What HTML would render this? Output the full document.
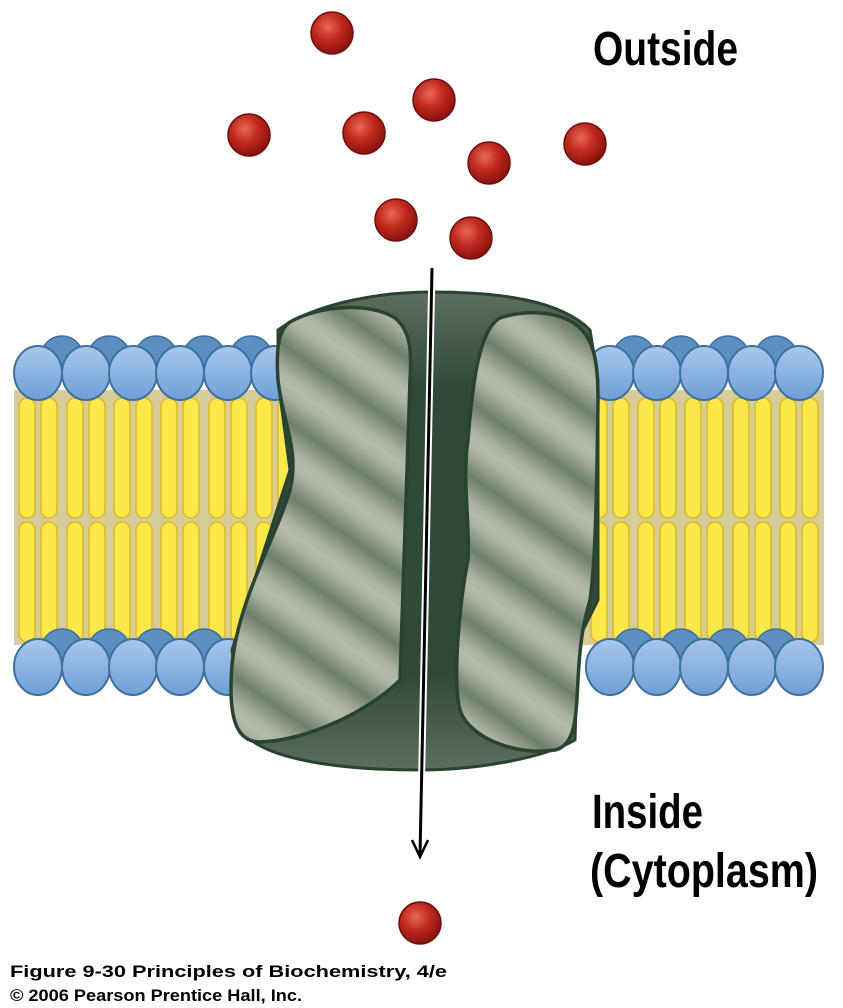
<!DOCTYPE html>
<html><head><meta charset="utf-8"><style>
html,body{margin:0;padding:0;background:#fff;}
svg{display:block;}
</style></head><body>
<svg width="843" height="1008" viewBox="0 0 843 1008" xmlns="http://www.w3.org/2000/svg">
<defs>
<radialGradient id="ball" cx="0.4" cy="0.35" r="0.65">
<stop offset="0" stop-color="#e86a55"/><stop offset="0.5" stop-color="#c02a1e"/><stop offset="1" stop-color="#8a1210"/>
</radialGradient>
<linearGradient id="head" x1="0" y1="0" x2="0" y2="1">
<stop offset="0" stop-color="#a8c8ec"/><stop offset="1" stop-color="#6f9fd6"/>
</linearGradient>
<linearGradient id="stripeG" x1="0" y1="0" x2="0" y2="1">
<stop offset="0" stop-color="#6f7e6e"/><stop offset="0.35" stop-color="#a9b1a3"/><stop offset="0.5" stop-color="#b4bbae"/><stop offset="0.65" stop-color="#a9b1a3"/><stop offset="1" stop-color="#6f7e6e"/>
</linearGradient>
<pattern id="stripe" width="60" height="60" patternUnits="userSpaceOnUse" patternTransform="rotate(35)">
<rect width="60" height="60" fill="url(#stripeG)"/>
</pattern>
<linearGradient id="body" x1="0" y1="0" x2="0" y2="1">
<stop offset="0" stop-color="#5d6e5e"/><stop offset="0.2" stop-color="#2f4a38"/><stop offset="0.8" stop-color="#2f4a38"/><stop offset="1" stop-color="#5d6e5e"/>
</linearGradient>
</defs>

<rect x="14" y="390" width="810" height="255" fill="#d8cc98"/>
<g fill="#fce84a" stroke="#d9bb22" stroke-width="1.5">
<rect x="19" y="398" width="16" height="120" rx="8"/><rect x="41" y="398" width="16" height="120" rx="8"/>
<rect x="19" y="522" width="16" height="120" rx="8"/><rect x="41" y="522" width="16" height="120" rx="8"/>
<rect x="67" y="398" width="16" height="120" rx="8"/><rect x="89" y="398" width="16" height="120" rx="8"/>
<rect x="67" y="522" width="16" height="120" rx="8"/><rect x="89" y="522" width="16" height="120" rx="8"/>
<rect x="114" y="398" width="16" height="120" rx="8"/><rect x="136" y="398" width="16" height="120" rx="8"/>
<rect x="114" y="522" width="16" height="120" rx="8"/><rect x="136" y="522" width="16" height="120" rx="8"/>
<rect x="161" y="398" width="16" height="120" rx="8"/><rect x="183" y="398" width="16" height="120" rx="8"/>
<rect x="161" y="522" width="16" height="120" rx="8"/><rect x="183" y="522" width="16" height="120" rx="8"/>
<rect x="209" y="398" width="16" height="120" rx="8"/><rect x="231" y="398" width="16" height="120" rx="8"/>
<rect x="209" y="522" width="16" height="120" rx="8"/><rect x="231" y="522" width="16" height="120" rx="8"/>
<rect x="256" y="398" width="16" height="120" rx="8"/><rect x="278" y="398" width="16" height="120" rx="8"/>
<rect x="256" y="522" width="16" height="120" rx="8"/><rect x="278" y="522" width="16" height="120" rx="8"/>
<rect x="591" y="398" width="16" height="120" rx="8"/><rect x="613" y="398" width="16" height="120" rx="8"/>
<rect x="591" y="522" width="16" height="120" rx="8"/><rect x="613" y="522" width="16" height="120" rx="8"/>
<rect x="638" y="398" width="16" height="120" rx="8"/><rect x="660" y="398" width="16" height="120" rx="8"/>
<rect x="638" y="522" width="16" height="120" rx="8"/><rect x="660" y="522" width="16" height="120" rx="8"/>
<rect x="685" y="398" width="16" height="120" rx="8"/><rect x="707" y="398" width="16" height="120" rx="8"/>
<rect x="685" y="522" width="16" height="120" rx="8"/><rect x="707" y="522" width="16" height="120" rx="8"/>
<rect x="733" y="398" width="16" height="120" rx="8"/><rect x="755" y="398" width="16" height="120" rx="8"/>
<rect x="733" y="522" width="16" height="120" rx="8"/><rect x="755" y="522" width="16" height="120" rx="8"/>
<rect x="780" y="398" width="16" height="120" rx="8"/><rect x="802" y="398" width="16" height="120" rx="8"/>
<rect x="780" y="522" width="16" height="120" rx="8"/><rect x="802" y="522" width="16" height="120" rx="8"/>
</g>
<g fill="#5b8fc0" stroke="#3f6f9e" stroke-width="1.5">
<circle cx="62" cy="357" r="21"/><circle cx="109" cy="357" r="21"/><circle cx="156" cy="357" r="21"/><circle cx="204" cy="357" r="21"/><circle cx="251" cy="357" r="21"/>
<circle cx="634" cy="357" r="21"/><circle cx="681" cy="357" r="21"/><circle cx="728" cy="357" r="21"/><circle cx="776" cy="357" r="21"/>
<circle cx="62" cy="650" r="21"/><circle cx="109" cy="650" r="21"/><circle cx="156" cy="650" r="21"/><circle cx="204" cy="650" r="21"/>
<circle cx="634" cy="650" r="21"/><circle cx="681" cy="650" r="21"/><circle cx="728" cy="650" r="21"/><circle cx="776" cy="650" r="21"/>
</g>
<g fill="url(#head)" stroke="#3f6f9e" stroke-width="2">
<ellipse cx="38" cy="373" rx="24" ry="27"/><ellipse cx="86" cy="373" rx="24" ry="27"/><ellipse cx="133" cy="373" rx="24" ry="27"/><ellipse cx="180" cy="373" rx="24" ry="27"/><ellipse cx="228" cy="373" rx="24" ry="27"/><ellipse cx="275" cy="373" rx="24" ry="27"/>
<ellipse cx="610" cy="373" rx="24" ry="27"/><ellipse cx="657" cy="373" rx="24" ry="27"/><ellipse cx="704" cy="373" rx="24" ry="27"/><ellipse cx="752" cy="373" rx="24" ry="27"/><ellipse cx="799" cy="373" rx="24" ry="27"/>
<ellipse cx="38" cy="667" rx="24" ry="28"/><ellipse cx="86" cy="667" rx="24" ry="28"/><ellipse cx="133" cy="667" rx="24" ry="28"/><ellipse cx="180" cy="667" rx="24" ry="28"/><ellipse cx="228" cy="667" rx="24" ry="28"/>
<ellipse cx="610" cy="667" rx="24" ry="28"/><ellipse cx="657" cy="667" rx="24" ry="28"/><ellipse cx="704" cy="667" rx="24" ry="28"/><ellipse cx="752" cy="667" rx="24" ry="28"/><ellipse cx="799" cy="667" rx="24" ry="28"/>
</g>

<path d="M278,330 C320,300 390,292 430,292 C500,292 560,300 590,330 L598,380 L598,600 L578,640 L575,740 C540,760 470,770 420,770 C340,770 270,760 245,735 L232,650 L290,470 L278,380 Z" fill="url(#body)" stroke="#2a4230" stroke-width="3"/>
<path d="M290,322 C320,305 370,302 395,318 C410,330 412,350 410,380 L400,680 C370,710 310,740 260,742 C235,742 228,715 232,665 C238,600 275,540 290,490 C300,450 282,420 278,380 C276,350 278,330 290,322 Z" fill="url(#stripe)" stroke="#2a4230" stroke-width="3.5"/>
<path d="M500,318 C530,308 565,312 582,330 C596,345 598,370 598,400 C597,470 596,560 590,600 C584,620 580,640 578,680 C576,720 575,745 555,750 C520,756 470,740 460,710 C452,680 460,600 468,560 C470,520 462,480 468,440 C472,390 478,330 500,318 Z" fill="url(#stripe)" stroke="#2a4230" stroke-width="3.5"/>

<line x1="432" y1="268" x2="420" y2="856" stroke="#fff" stroke-width="7"/>
<line x1="432" y1="268" x2="420" y2="856" stroke="#000" stroke-width="3"/>
<polyline points="412,840 420,857 428,840" fill="none" stroke="#000" stroke-width="2.5"/>

<g fill="url(#ball)" stroke="#6e0e0c" stroke-width="1.5">
<circle cx="332" cy="33" r="21"/><circle cx="434" cy="100" r="21"/><circle cx="249" cy="135" r="21"/><circle cx="364" cy="133" r="21"/>
<circle cx="489" cy="163" r="21"/><circle cx="585" cy="144" r="21"/><circle cx="396" cy="220" r="21"/><circle cx="471" cy="238" r="21"/>
<circle cx="420" cy="923" r="21"/>
</g>

<g font-family="Liberation Sans, sans-serif" fill="#000">
<text x="593" y="65" font-size="48" font-weight="bold" textLength="145" lengthAdjust="spacingAndGlyphs">Outside</text>
<text x="592" y="828" font-size="48" font-weight="bold" textLength="111" lengthAdjust="spacingAndGlyphs">Inside</text>
<text x="590" y="887" font-size="48" font-weight="bold" textLength="228" lengthAdjust="spacingAndGlyphs">(Cytoplasm)</text>
<text x="10" y="977" font-size="17" font-weight="bold" textLength="437" lengthAdjust="spacingAndGlyphs">Figure 9-30  Principles of Biochemistry, 4/e</text>
<text x="10" y="1001" font-size="17" font-weight="bold" textLength="292" lengthAdjust="spacingAndGlyphs">© 2006 Pearson Prentice Hall, Inc.</text>
</g>
</svg>
</body></html>
